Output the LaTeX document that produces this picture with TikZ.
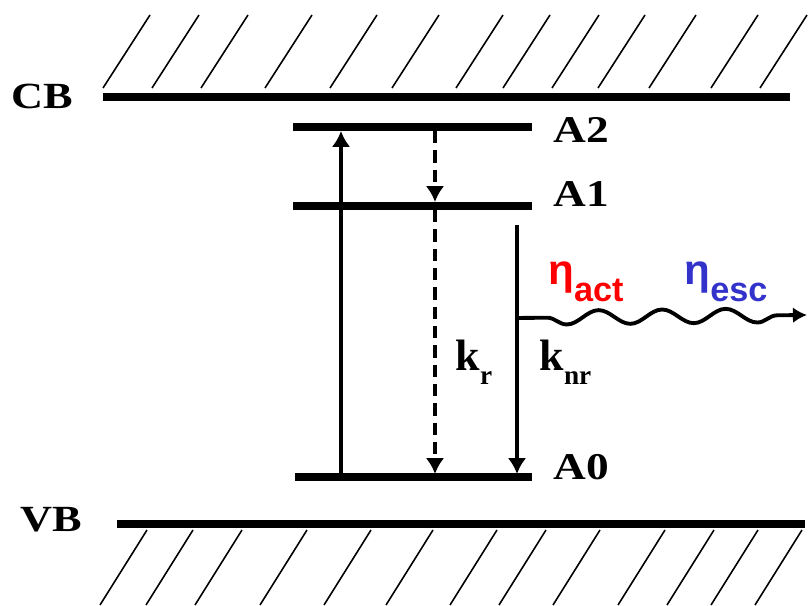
\documentclass[tikz,border=0pt]{standalone}
\usepackage{fontspec}
\usepackage{graphicx}
\setmainfont{Liberation Serif}
\newfontfamily\wideserif[FakeStretch=1.2]{Liberation Serif}
\newfontfamily\etafont{Liberation Sans}
\usetikzlibrary{arrows.meta,decorations.pathmorphing}
\definecolor{etablue}{RGB}{51,51,204}
\newcommand{\lowsub}[3]{\raisebox{-#1}{\fontsize{#2}{#2}\selectfont #3}}

\begin{document}
\begin{tikzpicture}[
	lvl/.style={line width=4.3pt},
	hatch/.style={line width=0.9pt},
	trans/.style={line width=2.5pt, -{Latex[length=9pt, width=10.5pt]}},
	dashtrans/.style={trans, dash pattern=on 7pt off 4pt},
	wave/.style={line width=2.2pt, -{Latex[length=8pt, width=9pt]}, decorate,
		decoration={snake, mirror, segment length=1.27cm, amplitude=0.14cm, pre length=0.6cm, post length=0.4cm}},
	bandlbl/.style={inner sep=0pt, font=\wideserif\bfseries\fontsize{21}{21}\selectfont},
	statelbl/.style={inner sep=0pt, anchor=west, font=\wideserif\bfseries\fontsize{21.5}{21.5}\selectfont},
	ratelbl/.style={inner sep=0pt, font=\bfseries\fontsize{25}{25}\selectfont},
	eff1bl/.style={inner sep=0pt, font=\etafont\bfseries\fontsize{24}{24}\selectfont}
]

	\useasboundingbox (0, 0) rectangle (16.16, 12.12);

	\foreach \x in {2.06, 3.04, 4.02, 5.3, 6.6, 7.84, 9.12, 10.06, 11.04, 11.96, 12.98, 14.22, 15.2}
		\draw[hatch] (\x, 10.36) -- ++(0.94, 1.46);
	\foreach \x in {2.94, 3.86, 4.84, 6.14, 7.42, 8.66, 9.94, 10.92, 12.0, 13.3, 14.28, 15.16, 16.04}
		\draw[hatch] (\x, 1.52) -- ++(-0.94, -1.5);

	\coordinate (CBw) at (2.06, 10.18);
	\coordinate (CBe) at (15.8, 10.18);
	\coordinate (VBw) at (2.34, 1.64);
	\coordinate (VBe) at (16.1, 1.64);
	\coordinate (A2w) at (5.86, 9.58);
	\coordinate (A2e) at (10.64, 9.58);
	\coordinate (A1w) at (5.86, 8.0);
	\coordinate (A1e) at (10.64, 8.0);
	\coordinate (A0w) at (5.9, 2.58);
	\coordinate (A0e) at (10.64, 2.58);

	\path[lvl]
	(CBw) edge (CBe)
	(VBw) edge (VBe)
	(A2w) edge (A2e)
	(A1w) edge (A1e)
	(A0w) edge (A0e);

	\node (CB) [bandlbl] at (0.84, 10.2) {CB};
	\node (VB) [bandlbl] at (1.02, 1.72) {VB};
	\node (A2) [statelbl] at (11.06, 9.53) {A2};
	\node (A1) [statelbl] at (11.06, 8.24) {A1};
	\node (A0) [statelbl] at (11.06, 2.77) {A0};

	\coordinate (pump0) at (6.82, 2.64);
	\coordinate (pump2) at (6.82, 9.5);
	\coordinate (relax2) at (8.7, 9.5);
	\coordinate (relax1) at (8.7, 8.08);
	\coordinate (rad1) at (8.7, 7.92);
	\coordinate (rad0) at (8.7, 2.64);
	\coordinate (nr1) at (10.34, 7.62);
	\coordinate (nr0) at (10.34, 2.64);
	\coordinate (wave0) at (10.34, 5.76);
	\coordinate (wave1) at (16.14, 5.82);

	\path[trans]
	(pump0) edge (pump2)
	(nr1) edge (nr0);

	\path[dashtrans]
	(relax2) edge (relax1)
	(rad1) edge (rad0);

	\draw[wave] (wave0) -- (wave1);

	\node (kr) [ratelbl] at (9.48, 4.88) {k\lowsub{8pt}{15.5}{r}};
	\node (knr) [ratelbl] at (11.31, 4.88) {k\lowsub{8pt}{15.5}{nr}};
	\node (etaact) [eff1bl, text=red] at (11.72, 6.49) {η\lowsub{9.6pt}{19.5}{act}};
	\node (etaesc) [eff1bl, text=etablue] at (14.52, 6.49) {η\lowsub{9.6pt}{19.5}{esc}};

\end{tikzpicture}
\end{document}
